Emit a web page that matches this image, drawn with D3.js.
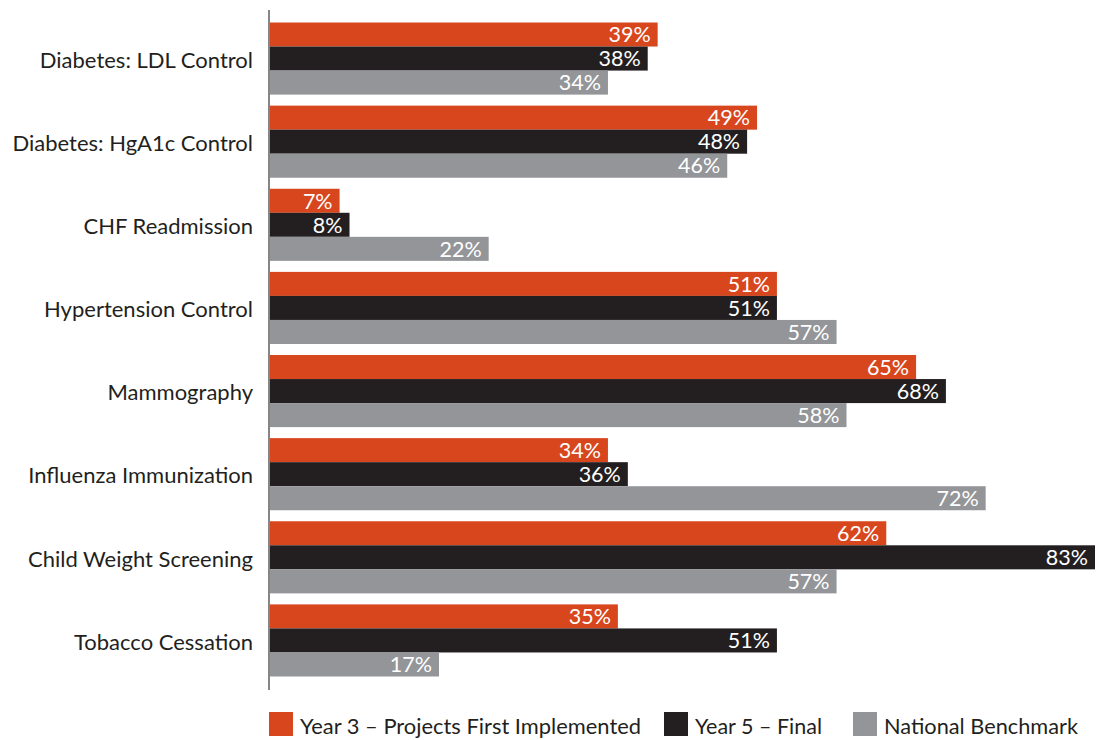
<!DOCTYPE html>
<html>
  <head>
    <meta charset="utf-8">
    <title>Quality measures</title>
    <script src="https://d3js.org/d3.v7.min.js"></script>
    <style>
      body { margin: 0; background: #fff; }
      text { font-family: Lato, "Open Sans", sans-serif; }
    </style>
  </head>
  <body>
    <div id="chart"></div>
    <script>
      // data
      var categories = ["Diabetes: LDL Control", "Diabetes: HgA1c Control", "CHF Readmission",
        "Hypertension Control", "Mammography", "Influenza Immunization",
        "Child Weight Screening", "Tobacco Cessation"];
      var seriesNames = ["Year 3 \u2013 Projects First Implemented", "Year 5 \u2013 Final", "National Benchmark"];
      var year3 = [39, 49, 7, 51, 65, 34, 62, 35];
      var year5 = [38, 48, 8, 51, 68, 36, 83, 51];
      var benchmark = [34, 46, 22, 57, 58, 72, 57, 17];
      var colours = ["#d8461e", "#231f20", "#939598"];

      var width = 1101, height = 740;
      var svg = d3.select("#chart").append("svg")
        .attr("width", width)
        .attr("height", height);

      var series = [year3, year5, benchmark];
      var rows = categories.map(function(c, i) {
        return { cat: c, vals: series.map(function(s, j) { return { key: j, v: s[i] }; }) };
      });

      // scales
      var x = d3.scaleLinear().domain([0, 83]).range([270, 1095]);
      var y = d3.scaleBand().domain(categories).range([22.5, 676.5]).paddingInner(11 / 83).paddingOuter(0);
      var ySub = d3.scaleBand().domain([0, 1, 2]).range([0, y.bandwidth()]);

      // bars
      var groups = svg.selectAll(".grp")
        .data(rows)
        .enter().append("g")
          .attr("class", "grp")
          .attr("transform", function(d) { return "translate(0," + y(d.cat) + ")"; });
      groups.selectAll("rect")
        .data(function(d) { return d.vals; })
        .enter().append("rect")
          .attr("x", x(0))
          .attr("y", function(d) { return ySub(d.key); })
          .attr("width", function(d) { return x(d.v) - x(0); })
          .attr("height", ySub.bandwidth())
          .attr("fill", function(d) { return colours[d.key]; });
      groups.selectAll(".val")
        .data(function(d) { return d.vals; })
        .enter().append("text")
          .attr("class", "val")
          .attr("x", function(d) { return x(d.v) - 7; })
          .attr("y", function(d) { return ySub(d.key) + ySub.bandwidth() / 2; })
          .attr("dy", "0.36em")
          .attr("text-anchor", "end")
          .attr("fill", "#fff")
          .style("font-size", "21.5px")
          .text(function(d) { return d.v + "%"; });

      // category labels
      var axis = svg.append("g")
        .attr("transform", "translate(" + 253 + ",0)")
        .call(d3.axisLeft(y).tickSize(0).tickPadding(0));
      axis.select(".domain").remove();
      axis.selectAll("text")
        .attr("fill", "#231f20")
        .attr("dy", "0.42em")
        .style("font-family", "Lato, sans-serif")
        .style("font-size", "22px");

      // axis line
      svg.append("line")
        .attr("x1", 269).attr("x2", 269)
        .attr("y1", 10).attr("y2", 690)
        .attr("stroke", "#444")
        .attr("stroke-width", 1.3);

      // legend
      var legendX = [269, 664, 853];
      var legendW = [341, 127, 194];
      var legend = svg.selectAll(".legend")
        .data(seriesNames)
        .enter().append("g")
          .attr("class", "legend")
          .attr("transform", function(d, i) { return "translate(" + legendX[i] + ",712)"; });
      legend.append("rect")
        .attr("width", 24)
        .attr("height", 24)
        .attr("fill", function(d, i) { return colours[i]; });
      legend.append("text")
        .attr("x", 31)
        .attr("y", 22)
        .attr("fill", "#231f20")
        .attr("textLength", function(d, i) { return legendW[i]; })
        .attr("lengthAdjust", "spacingAndGlyphs")
        .style("font-size", "21px")
        .text(function(d) { return d; });
    </script>
  </body>
</html>
